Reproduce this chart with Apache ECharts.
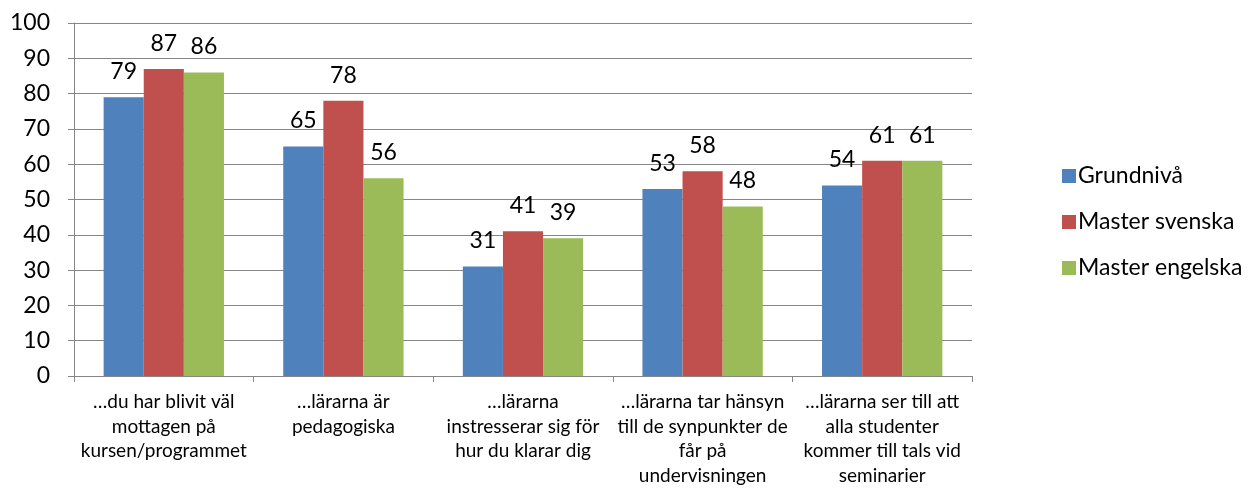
<!DOCTYPE html>
<html>
<head>
<meta charset="utf-8">
<script src="https://cdn.jsdelivr.net/npm/echarts@6/dist/echarts.min.js"></script>
<style>
  html, body { margin: 0; padding: 0; background: #fff; }
  #chart { width: 1259px; height: 488px; }
</style>
</head>
<body>
<div id="chart"></div>
<script>
// Svar per fråga, fördelat på nivå
const categories = [
  '…du har blivit väl\nmottagen på\nkursen/programmet',
  '…lärarna är\npedagogiska',
  '…lärarna\ninstresserar sig för\nhur du klarar dig',
  '…lärarna tar hänsyn\ntill de synpunkter de\nfår på\nundervisningen',
  '…lärarna ser till att\nalla studenter\nkommer till tals vid\nseminarier'
]
const grundniva = [79, 65, 31, 53, 54]
const masterSvenska = [87, 78, 41, 58, 61]
const masterEngelska = [86, 56, 39, 48, 61]

const font = 'Lato, "Open Sans", sans-serif'
const axisGray = '#868686'

function bar(name, data, color) {
  return {
    name,
    type: 'bar',
    data,
    barGap: 0,
    barCategoryGap: '33%',
    itemStyle: { color },
    label: {
      show: true,
      position: 'top',
      distance: 14,
      color: '#000',
      fontSize: 23,
      fontFamily: font
    }
  }
}

const chart = echarts.init(document.getElementById('chart'))
chart.setOption({
  animation: false,
  textStyle: { fontFamily: font },
  grid: { left: 74, right: 287, top: 23, bottom: 112 },
  legend: {
    orient: 'vertical',
    left: 1057,
    top: 159,
    itemWidth: 14,
    itemHeight: 14,
    itemGap: 22,
    icon: 'rect',
    textStyle: { fontSize: 23, lineHeight: 24, color: '#000', fontFamily: font, padding: [0, 0, 0, -3] },
    data: ['Grundnivå', 'Master svenska', 'Master engelska']
  },
  xAxis: {
    type: 'category',
    data: categories,
    axisLine: { lineStyle: { color: axisGray, width: 1 } },
    axisTick: { show: true, length: 6, lineStyle: { color: axisGray } },
    axisLabel: {
      color: '#000',
      fontSize: 19,
      lineHeight: 24.5,
      margin: 14,
      interval: 0,
      fontFamily: font
    }
  },
  yAxis: {
    type: 'value',
    min: 0,
    max: 100,
    interval: 10,
    axisLine: { show: true, lineStyle: { color: axisGray } },
    axisTick: { show: true, length: 6, lineStyle: { color: axisGray } },
    splitLine: { lineStyle: { color: axisGray, width: 1 } },
    axisLabel: { color: '#000', fontSize: 23, margin: 24, fontFamily: font }
  },
  series: [
    bar('Grundnivå', grundniva, '#4f81bd'),
    bar('Master svenska', masterSvenska, '#c0504d'),
    bar('Master engelska', masterEngelska, '#9bbb59')
  ]
})
</script>
</body>
</html>
